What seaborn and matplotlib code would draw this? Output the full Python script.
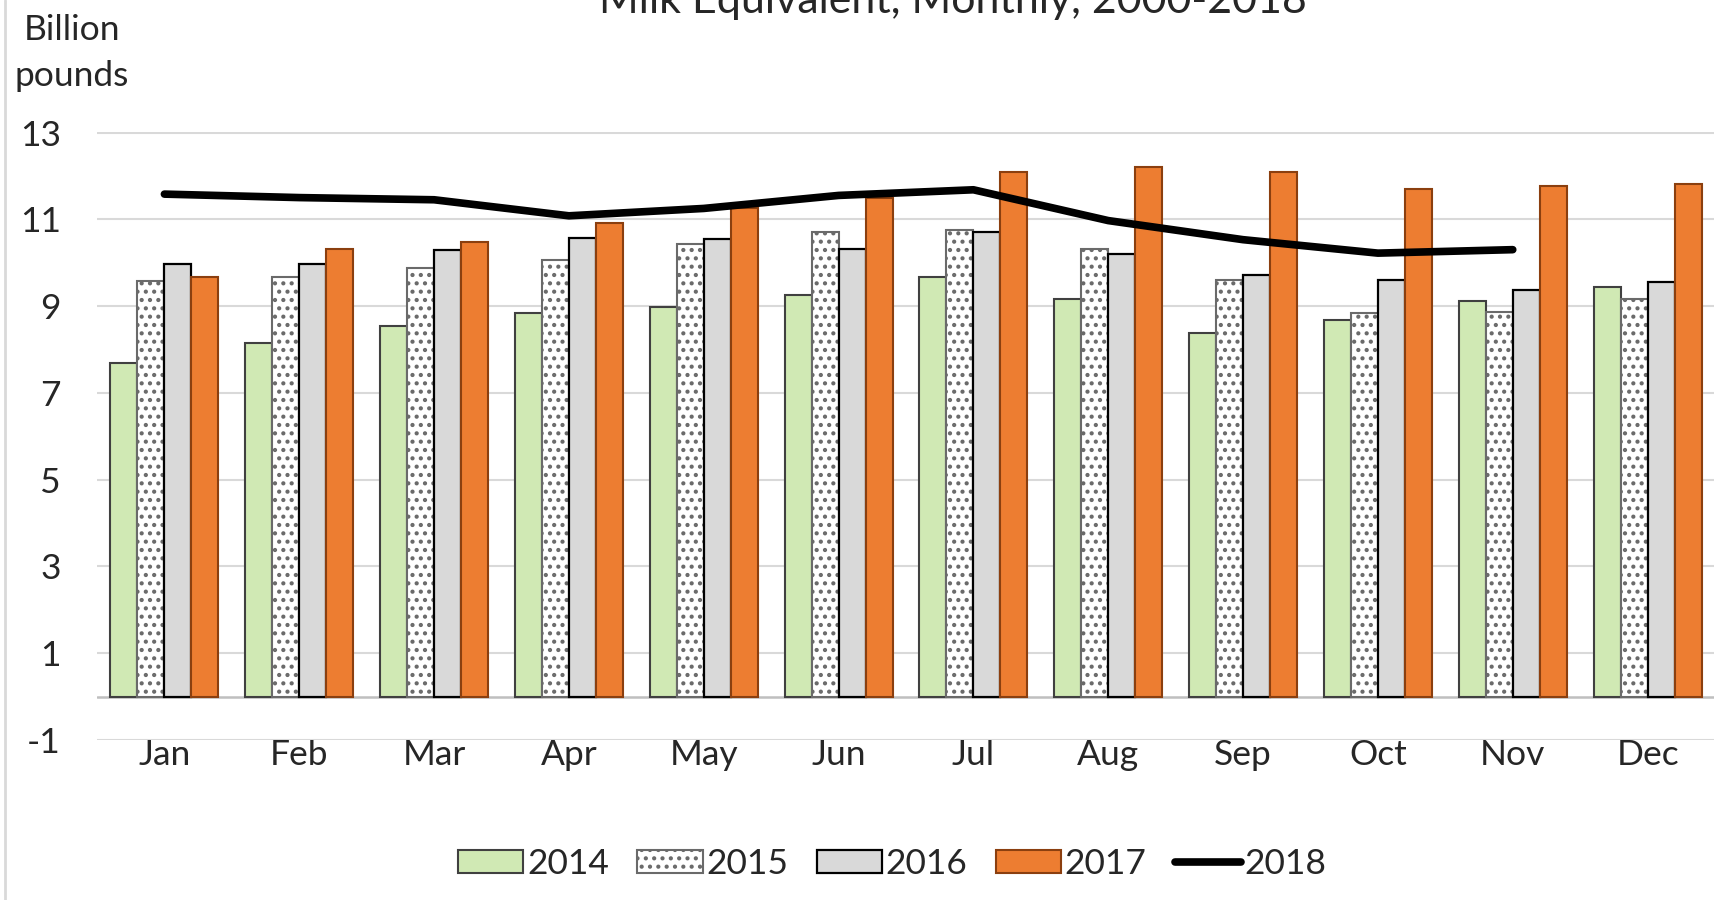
import numpy as np
import pandas as pd
import matplotlib
matplotlib.use('Agg')
import matplotlib.pyplot as plt
import seaborn as sns
from matplotlib.patches import Patch
from matplotlib.lines import Line2D

months = ['Jan', 'Feb', 'Mar', 'Apr', 'May', 'Jun', 'Jul', 'Aug', 'Sep', 'Oct', 'Nov', 'Dec']
years = ['2014', '2015', '2016', '2017']
v2014 = [7.69, 8.14, 8.55, 8.83, 8.99, 9.25, 9.66, 9.17, 8.39, 8.69, 9.12, 9.43]
v2015 = [9.58, 9.66, 9.88, 10.07, 10.43, 10.70, 10.76, 10.32, 9.61, 8.83, 8.87, 9.17]
v2016 = [9.98, 9.97, 10.29, 10.57, 10.54, 10.32, 10.70, 10.20, 9.72, 9.61, 9.36, 9.55]
v2017 = [9.66, 10.32, 10.47, 10.91, 11.25, 11.50, 12.08, 12.21, 12.10, 11.69, 11.77, 11.81]
v2018 = [11.58, 11.50, 11.45, 11.08, 11.25, 11.55, 11.68, 10.97, 10.53, 10.22, 10.30]
yticks = [-1, 1, 3, 5, 7, 9, 11, 13]

sns.set_style('white')
plt.rcParams['font.family'] = ['Lato', 'DejaVu Sans']
plt.rcParams['axes.unicode_minus'] = False
plt.rcParams['hatch.linewidth'] = 1.8

df = pd.DataFrame({
    'Month': months * 4,
    'Year': [y for y in years for _ in months],
    'Value': v2014 + v2015 + v2016 + v2017,
})

# fill, edge, linewidth, hatch
styles = {
    '2014': ('#d0e9b4', '#404040', 1.5, None),
    '2015': ('#ffffff', '#6a6a6a', 1.5, '..'),
    '2016': ('#d9d9d9', '#000000', 1.6, None),
    '2017': ('#ed7d31', '#8b3f0f', 1.5, None),
}
fs = 25.5

fig = plt.figure(figsize=(17.15, 9), dpi=100)
ax = fig.add_axes([97 / 1715, 1 - 740 / 900, (1715 - 97) / 1715, (740 - 132.5) / 900])

sns.barplot(data=df, x='Month', y='Value', hue='Year', order=months, hue_order=years,
            palette=[styles[y][0] for y in years], saturation=1, width=0.8,
            legend=False, ax=ax, zorder=3)

for cont, yr in zip(ax.containers, years):
    fc, ec, lw, hatch = styles[yr]
    for bar in cont:
        bar.set_facecolor(fc)
        bar.set_edgecolor(ec)
        bar.set_linewidth(lw)
        if hatch:
            bar.set_hatch(hatch)

sns.lineplot(x=np.arange(len(v2018)), y=v2018, color='black', linewidth=5.5,
             ax=ax, zorder=5, solid_capstyle='round', solid_joinstyle='round')

ax.set_ylim(-1, 13)
ax.set_xlim(-0.5, 11.5)
ax.set_yticks(yticks)
for t in yticks:
    ax.axhline(t, color='#d9d9d9', lw=1.5, zorder=1)
ax.axhline(0, color='#bfbfbf', lw=1.8, zorder=2)

ax.set_xlabel('')
ax.set_ylabel('')
for s in ax.spines.values():
    s.set_visible(False)
ax.tick_params(axis='y', length=0, pad=26, labelsize=fs)
ax.tick_params(axis='x', length=0, pad=-1, labelsize=fs)

fig.text(72 / 1715, 1 - 53 / 900, 'Billion\npounds', ha='center', va='center',
         fontsize=fs, linespacing=1.55)
fig.text(953 / 1715, 1 - 13 / 900, 'Milk Equivalent, Monthly, 2000-2018',
         ha='center', va='baseline', fontsize=31)

fig.add_artist(Line2D([0.003, 0.003], [0, 1], color='#d9d9d9', lw=2))

handles = []
for yr in years:
    fc, ec, lw, hatch = styles[yr]
    handles.append(Patch(facecolor=fc, edgecolor=ec, linewidth=lw, hatch=hatch, label=yr))
handles.append(Line2D([0], [0], color='black', lw=5.5, solid_capstyle='round', label='2018'))

fig.legend(handles=handles, loc='center', bbox_to_anchor=(892 / 1715, 1 - 864 / 900),
           ncol=5, frameon=False, fontsize=fs, handlelength=1.85, handleheight=0.62,
           handletextpad=0.1, columnspacing=0.8)

plt.savefig('out.png', dpi=100)
